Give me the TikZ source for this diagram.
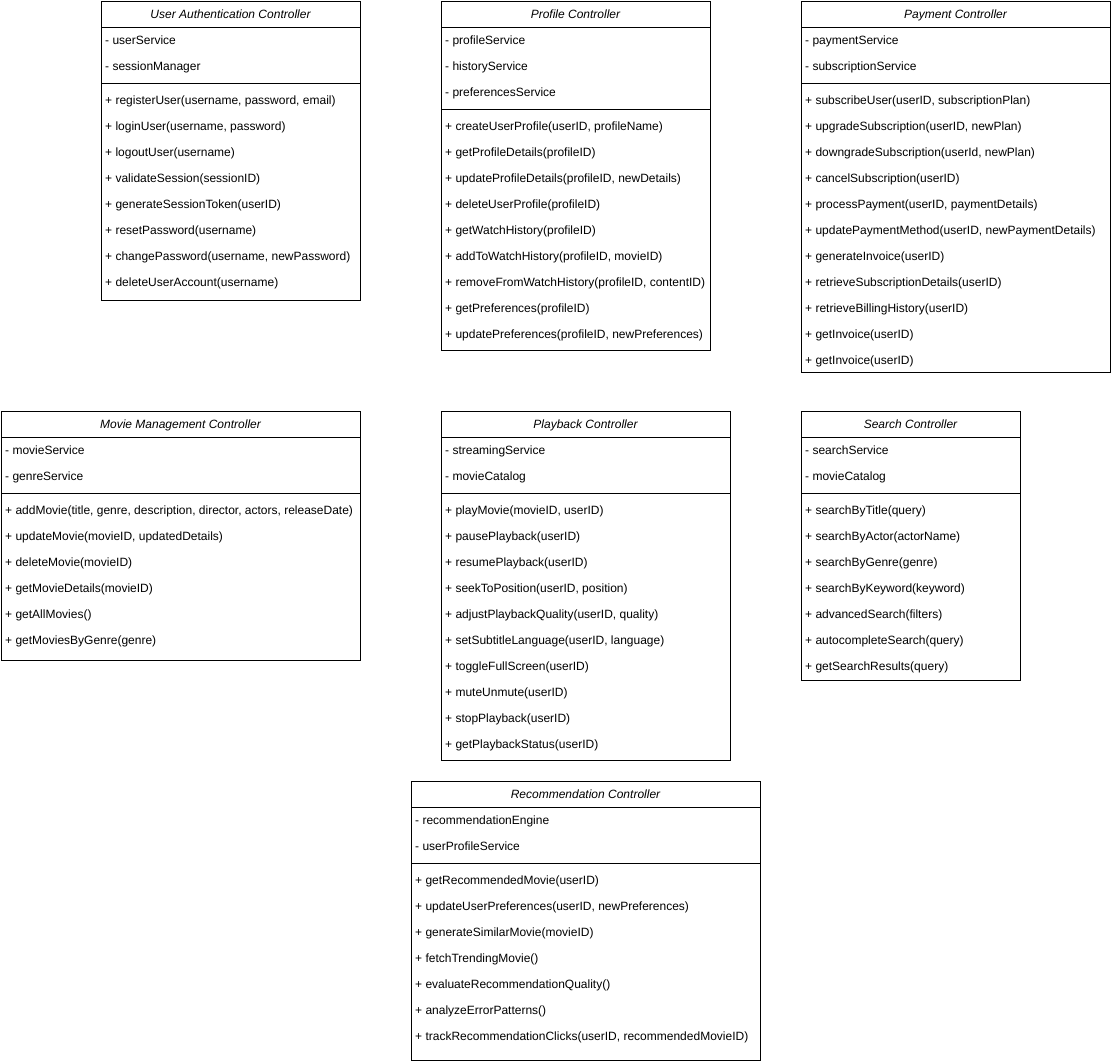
\documentclass[tikz,border=0pt]{standalone}
\usepackage{fontspec}
\setmainfont{Liberation Sans}
\usetikzlibrary{calc}
\tikzset{
  classbox/.style={draw, line width=1pt, anchor=north west, inner sep=0pt, outer sep=0pt},
  titletext/.style={font=\fontsize{12}{14}\selectfont\itshape, inner sep=0pt, text height=8.6pt, text depth=0pt},
  rowtext/.style={font=\fontsize{12}{14}\selectfont, anchor=west, inner sep=0pt, text height=8.6pt, text depth=0pt},
  divider/.style={line width=1pt},
}
% #1 name, #2 left, #3 top, #4 width, #5 height, #6 title,
% #7 number of attributes, #8 attributes, #9 operations
\newcommand{\umlclass}[9]{%
  \node[classbox, minimum width=#4pt, minimum height=#5pt] (#1) at (#2,-#3) {};
  \node[titletext] (#1-title) at ($(#1.north)+(0,-13)$) {#6};
  \draw[divider] ($(#1.north west)+(0,-26)$) -- ($(#1.north east)+(0,-26)$);
  \foreach \s [count=\i] in {#8} {
    \node[rowtext] (#1-a\i) at ($(#1.north west)+(4,{-39-26*(\i-1)})$) {\s};
  }
  \draw[divider] ($(#1.north west)+(0,{-30-26*#7})$) -- ($(#1.north east)+(0,{-30-26*#7})$);
  \foreach \s [count=\i] in {#9} {
    \node[rowtext] (#1-m\i) at ($(#1.north west)+(4,{-47-26*#7-26*(\i-1)})$) {\s};
  }
}
\begin{document}
\begin{tikzpicture}[x=1pt, y=1pt]
\useasboundingbox (0,0) rectangle (1111,-1061);

\umlclass{auth}{101}{1}{259}{299}{User Authentication Controller}{2}
  {{- userService},{- sessionManager}}
  {{+ registerUser(username, password, email)},
   {+ loginUser(username, password)},
   {+ logoutUser(username)},
   {+ validateSession(sessionID)},
   {+ generateSessionToken(userID)},
   {+ resetPassword(username)},
   {+ changePassword(username, newPassword)},
   {+ deleteUserAccount(username)}}

\umlclass{profile}{441}{1}{269}{349}{Profile Controller}{3}
  {{- profileService},{- historyService},{- preferencesService}}
  {{+ createUserProfile(userID, profileName)},
   {+ getProfileDetails(profileID)},
   {+ updateProfileDetails(profileID, newDetails)},
   {+ deleteUserProfile(profileID)},
   {+ getWatchHistory(profileID)},
   {+ addToWatchHistory(profileID, movieID)},
   {+ removeFromWatchHistory(profileID, contentID)},
   {+ getPreferences(profileID)},
   {+ updatePreferences(profileID, newPreferences)}}

\umlclass{payment}{801}{1}{309}{371}{Payment Controller}{2}
  {{- paymentService},{- subscriptionService}}
  {{+ subscribeUser(userID, subscriptionPlan)},
   {+ upgradeSubscription(userID, newPlan)},
   {+ downgradeSubscription(userId, newPlan)},
   {+ cancelSubscription(userID)},
   {+ processPayment(userID, paymentDetails)},
   {+ updatePaymentMethod(userID, newPaymentDetails)},
   {+ generateInvoice(userID)},
   {+ retrieveSubscriptionDetails(userID)},
   {+ retrieveBillingHistory(userID)},
   {+ getInvoice(userID)},
   {+ getInvoice(userID)}}

\umlclass{movie}{1}{411}{359}{249}{Movie Management Controller}{2}
  {{- movieService},{- genreService}}
  {{+ addMovie(title, genre, description, director, actors, releaseDate)},
   {+ updateMovie(movieID, updatedDetails)},
   {+ deleteMovie(movieID)},
   {+ getMovieDetails(movieID)},
   {+ getAllMovies()},
   {+ getMoviesByGenre(genre)}}

\umlclass{playback}{441}{411}{289}{349}{Playback Controller}{2}
  {{- streamingService},{- movieCatalog}}
  {{+ playMovie(movieID, userID)},
   {+ pausePlayback(userID)},
   {+ resumePlayback(userID)},
   {+ seekToPosition(userID, position)},
   {+ adjustPlaybackQuality(userID, quality)},
   {+ setSubtitleLanguage(userID, language)},
   {+ toggleFullScreen(userID)},
   {+ muteUnmute(userID)},
   {+ stopPlayback(userID)},
   {+ getPlaybackStatus(userID)}}

\umlclass{search}{801}{411}{219}{269}{Search Controller}{2}
  {{- searchService},{- movieCatalog}}
  {{+ searchByTitle(query)},
   {+ searchByActor(actorName)},
   {+ searchByGenre(genre)},
   {+ searchByKeyword(keyword)},
   {+ advancedSearch(filters)},
   {+ autocompleteSearch(query)},
   {+ getSearchResults(query)}}

\umlclass{recommend}{411}{781}{349}{279}{Recommendation Controller}{2}
  {{- recommendationEngine},{- userProfileService}}
  {{+ getRecommendedMovie(userID)},
   {+ updateUserPreferences(userID, newPreferences)},
   {+ generateSimilarMovie(movieID)},
   {+ fetchTrendingMovie()},
   {+ evaluateRecommendationQuality()},
   {+ analyzeErrorPatterns()},
   {+ trackRecommendationClicks(userID, recommendedMovieID)}}
\end{tikzpicture}
\end{document}
